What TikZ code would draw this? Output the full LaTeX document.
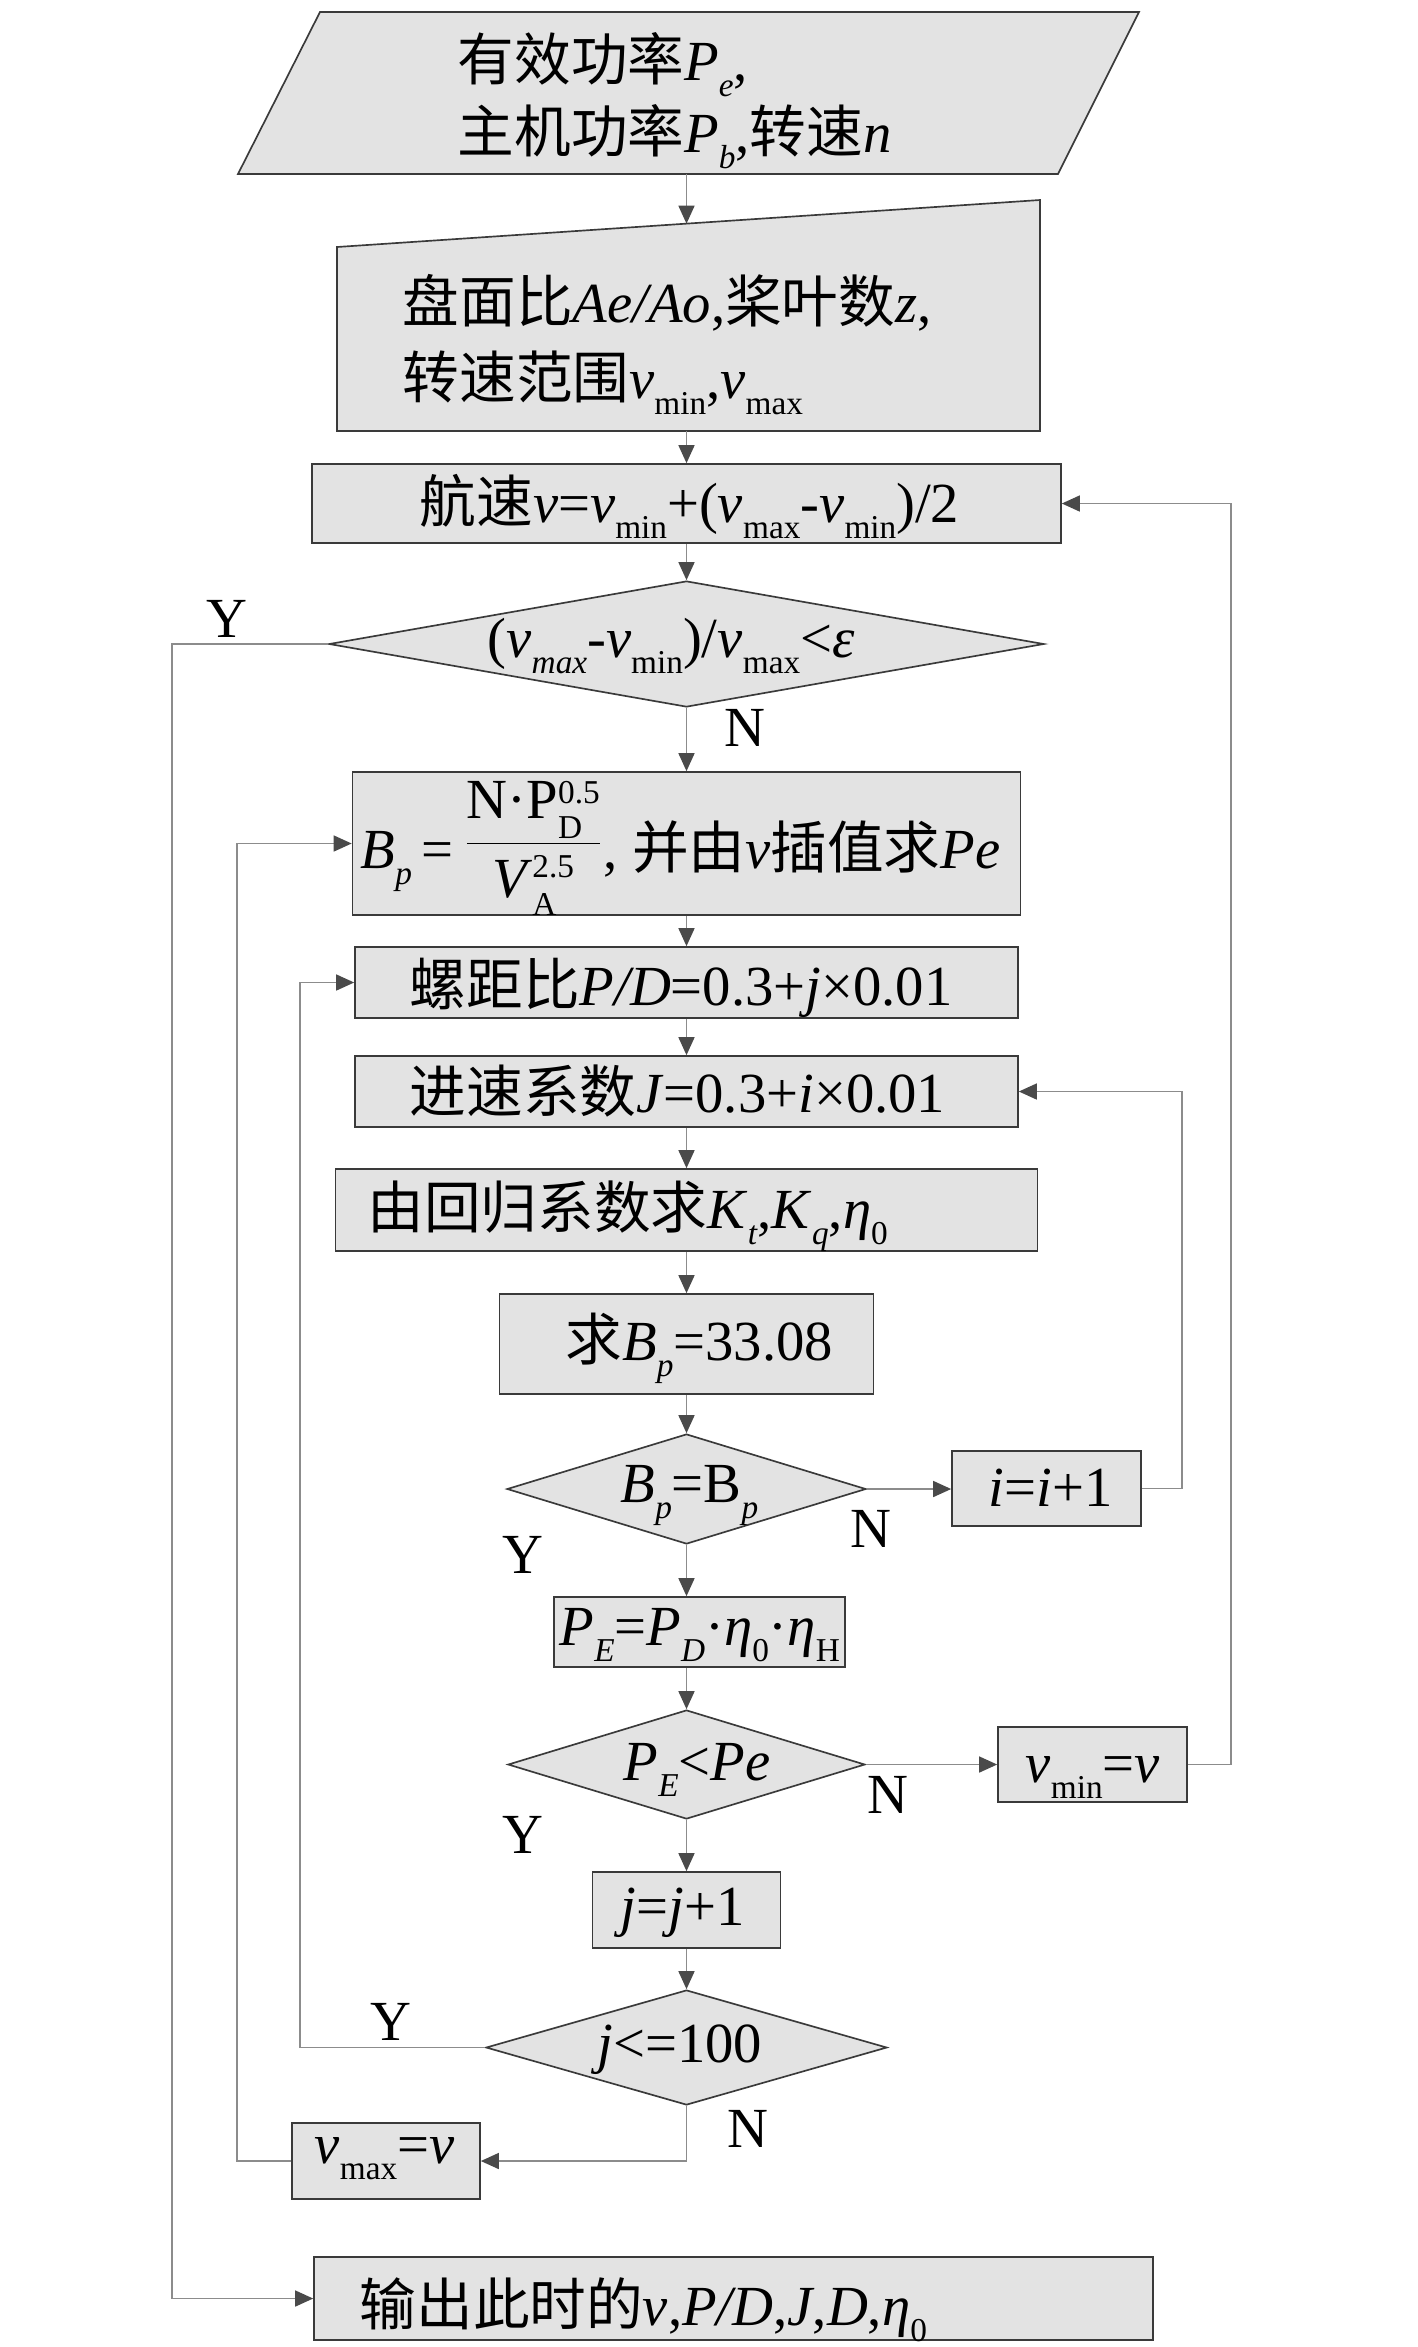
\documentclass[tikz,border=0pt]{standalone}
\usepackage{fontspec}
\setmainfont{Liberation Serif}
\newfontfamily\cjk{Noto Sans CJK SC}
\usetikzlibrary{shapes.geometric,arrows.meta}
\definecolor{fl}{HTML}{E3E3E3}
\definecolor{bd}{HTML}{3A3A3A}
\definecolor{lnc}{HTML}{8C8C8C}
\definecolor{tpc}{HTML}{4A4A4A}
\newcommand\zh[1]{{\cjk #1}}
\newcommand\smf{\fontsize{10}{10}\selectfont}
\newcommand\dn[1]{\raisebox{-5pt}{\smf #1}}
% stacked superscript (#1, raised #3) over subscript (#2, lowered #4)
\newcommand\sps[4]{\rlap{\raisebox{#3}{\smf #1}}\rlap{\raisebox{-#4}{\smf #2}}\hphantom{\smf #1}}
\begin{document}
\begin{tikzpicture}[x=0.3pt,y=-0.3pt,
  shp/.style={draw=bd, fill=fl, line width=0.5pt, line join=miter},
  box/.style={rectangle, draw=bd, fill=fl, line width=0.5pt, inner sep=0pt},
  dia/.style={diamond, draw=bd, fill=fl, line width=0.5pt, inner sep=0pt},
  txt/.style={inner sep=0pt, font=\fontsize{17}{20}\selectfont, text=black},
  lab/.style={txt, anchor=base},
  arr/.style={draw=lnc, line width=0.45pt, -{Triangle[length=5.4pt,width=4.8pt,color=tpc]}},
  conn/.style={draw=lnc, line width=0.45pt}]
\useasboundingbox (0,0) rectangle (1417,2347);

% input parallelogram
\path[shp] (320,12) -- (1139,12) -- (1058,174) -- (238,174) -- cycle;
\coordinate (ins) at (686.5,174);
\node[txt,anchor=base west] (t1a) at (457,80) {\zh{有效功率}\textit{P}\dn{\textit{e}},};
\node[txt,anchor=base west] (t1b) at (457,152) {\zh{主机功率}\textit{P}\dn{\textit{b}},\zh{转速}\textit{n}};

% manual input
\path[shp] (337,247) -- (1040,200) -- (1040,431) -- (337,431) -- cycle;
\coordinate (min) at (686.5,223.7);
\coordinate (mis) at (686.5,431);
\node[txt,anchor=base west] (t2a) at (402,322) {\zh{盘面比}\textit{Ae/Ao},\zh{桨叶数}\textit{z},};
\node[txt,anchor=base west] (t2b) at (402,398) {\zh{转速范围}\textit{v}\dn{min},\textit{v}\dn{max}};

% boxes and diamonds
\node[box, minimum width=224.7pt, minimum height=23.7pt] (b3) at (686.5,503.5) {};
\node[dia, minimum width=214.5pt, minimum height=37.8pt] (d1) at (686.5,644) {};
\node[box, minimum width=200.4pt, minimum height=42.9pt] (b4) at (686.5,843.5) {};
\node[box, minimum width=198.9pt, minimum height=21.3pt] (b5) at (686.5,982.5) {};
\node[box, minimum width=198.9pt, minimum height=21.3pt] (b6) at (686.5,1091.5) {};
\node[box, minimum width=210.6pt, minimum height=24.6pt] (b7) at (686.5,1210) {};
\node[box, minimum width=112.2pt, minimum height=30pt] (b8) at (686.5,1344) {};
\node[dia, minimum width=107.7pt, minimum height=33pt] (d2) at (686.5,1489) {};
\node[box, minimum width=56.7pt, minimum height=22.5pt] (bi) at (1046.5,1488.5) {};
\node[box, minimum width=87.3pt, minimum height=21pt] (bpe) at (699.5,1632) {};
\node[dia, minimum width=107.1pt, minimum height=32.7pt] (d3) at (686.5,1764.5) {};
\node[box, minimum width=56.7pt, minimum height=22.5pt] (bvmin) at (1092.5,1764.5) {};
\node[box, minimum width=56.4pt, minimum height=22.8pt] (bj) at (686.5,1910) {};
\node[dia, minimum width=120.3pt, minimum height=34.5pt] (d4) at (686.5,2047.5) {};
\node[box, minimum width=56.4pt, minimum height=22.8pt] (bvmax) at (386,2161) {};
\node[box, minimum width=251.7pt, minimum height=24.9pt] (bout) at (733.5,2298.5) {};

% texts
\node[txt,anchor=base west] (t3) at (419,522) {\zh{航速}\textit{v}=\textit{v}\dn{min}+(\textit{v}\dn{max}-\textit{v}\dn{min})/2};
\node[txt,anchor=base west] (td1) at (487,657) {(\textit{v}\dn{\textit{max}}-\textit{v}\dn{min})/\textit{v}\dn{max}<\textit{ε}};
\node[txt,anchor=base west] (t4) at (360,868) {\textit{B}\dn{\textit{p}}\,=\,\raisebox{3pt}{$\displaystyle\frac{\hbox{N·P\sps{0.5}{D}{4.5pt}{6pt}}}{\hbox{\textit{V}\sps{2.5}{A}{6pt}{5.4pt}}}$}, \zh{并由}\textit{v}\zh{插值求}\textit{Pe}};
\node[txt,anchor=base west] (t5) at (409,1005) {\zh{螺距比}\textit{P/D}=0.3+\textit{j}×0.01};
\node[txt,anchor=base west] (t6) at (409,1112) {\zh{进速系数}\textit{J}=0.3+\textit{i}×0.01};
\node[txt,anchor=base west] (t7) at (367,1228) {\zh{由回归系数求}\textit{K}\dn{\textit{t}},\textit{K}\dn{\textit{q}},\textit{η}\dn{0}};
\node[txt,anchor=base west] (t8) at (565,1360) {\zh{求}\textit{B}\dn{\textit{p}}=33.08};
\node[txt,anchor=base west] (td2) at (620,1502) {\textit{B}\dn{\textit{p}}=B\dn{\textit{p}}};
\node[txt,anchor=base west] (ti) at (988,1506) {\textit{i}=\textit{i}+1};
\node[txt,anchor=base west] (tpe) at (559,1645) {\textit{P}\dn{\textit{E}}=\textit{P}\dn{\textit{D}}·\textit{η}\dn{0}·\textit{η}\dn{H}};
\node[txt,anchor=base west] (td3) at (623,1780) {\textit{P}\dn{\textit{E}}<\textit{Pe}};
\node[txt,anchor=base west] (tvmin) at (1025,1782) {\textit{v}\dn{min}=\textit{v}};
\node[txt,anchor=base west] (tj) at (620,1925) {\textit{j}=\textit{j}+1};
\node[txt,anchor=base west] (td4) at (597,2062) {\textit{j}<=100};
\node[txt,anchor=base west] (tvmax) at (314,2163) {\textit{v}\dn{max}=\textit{v}};
\node[txt,anchor=base west] (tout) at (359,2325) {\zh{输出此时的}\textit{v},\textit{P/D},\textit{J},\textit{D},\textit{η}\dn{0}};

% Y / N labels
\node[lab] (y1) at (227,637) {Y};
\node[lab] (n1) at (745,746) {N};
\node[lab] (y2) at (523,1573) {Y};
\node[lab] (n2) at (871,1547) {N};
\node[lab] (y3) at (523,1853) {Y};
\node[lab] (n3) at (888,1813) {N};
\node[lab] (y4) at (391,2040) {Y};
\node[lab] (n4) at (748,2147) {N};

% helper coordinates for loop lines
\coordinate (r1) at (1182,0);
\coordinate (r2) at (1231,0);
\coordinate (l1) at (300,0);
\coordinate (l2) at (237,0);
\coordinate (l3) at (172,0);

% main flow
\draw[arr] (ins) -- (min);
\draw[arr] (mis) -- (mis |- b3.north);
\draw[arr] (b3.south) -- (d1.north);
\draw[arr] (d1.south) -- (b4.north);
\draw[arr] (b4.south) -- (b5.north);
\draw[arr] (b5.south) -- (b6.north);
\draw[arr] (b6.south) -- (b7.north);
\draw[arr] (b7.south) -- (b8.north);
\draw[arr] (b8.south) -- (d2.north);
\draw[arr] (d2.south) -- (d2.south |- bpe.north);
\draw[arr] (bpe.south -| d3.north) -- (d3.north);
\draw[arr] (d3.south) -- (bj.north);
\draw[arr] (bj.south) -- (d4.north);

% branches
\draw[arr] (d2.east) -- (d2.east -| bi.west);
\draw[arr] (bi.east) -| (r1 |- b6.east) -- (b6.east);
\draw[arr] (d3.east) -- (d3.east -| bvmin.west);
\draw[arr] (bvmin.east) -| (r2 |- b3.east) -- (b3.east);
\draw[arr] (d4.west) -| (l1 |- b5.west) -- (b5.west);
\draw[arr] (d4.south) |- (bvmax.east);
\draw[arr] (bvmax.west) -| (l2 |- b4.west) -- (b4.west);
\draw[arr] (d1.west) -| (l3 |- bout.west) -- (bout.west);
\end{tikzpicture}
\end{document}
